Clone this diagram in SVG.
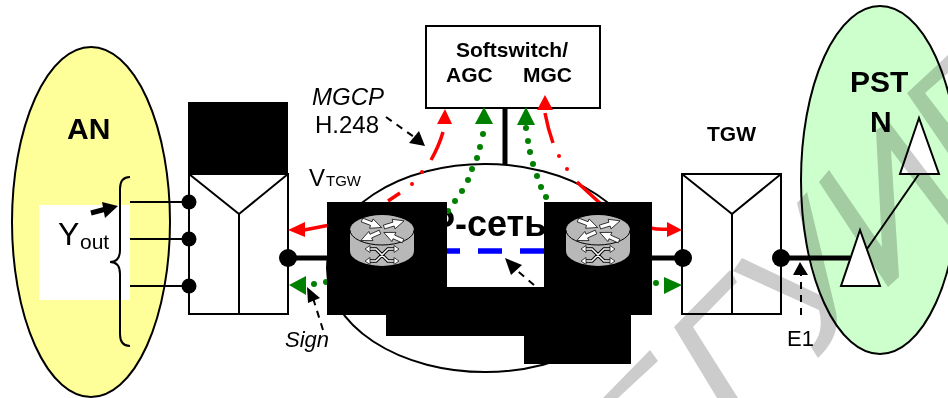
<svg xmlns="http://www.w3.org/2000/svg" xmlns:xlink="http://www.w3.org/1999/xlink" width="948" height="398" viewBox="0 0 948 398">
<style>
text{font-family:"Liberation Sans",Arial,sans-serif;fill:#000}
.b{font-weight:700}
.i{font-style:italic}
.shape{stroke:#000;stroke-width:2;fill:#fff}
.thin{stroke:#000;stroke-width:2;fill:none}
.thick{stroke:#000;stroke-width:5;fill:none}
.red{stroke:#f00;stroke-width:3.5;fill:none}
.rh{fill:#f00}
.gh{fill:#008000}
.gd{fill:#008000}
.dash{stroke:#000;stroke-width:2;fill:none;stroke-dasharray:7 6}
.wm{fill:#ccc;mix-blend-mode:multiply}
.tri{fill:#fff;stroke:#000;stroke-width:2;stroke-linejoin:miter}
.rb{fill:#b8b8b8}
.ra{fill:#fff;stroke:#000;stroke-width:.7}
.rx1{fill:none;stroke:#000;stroke-width:3.6}
.rx2{fill:none;stroke:#fff;stroke-width:1.5}
</style>
<defs>
<g id="gw">
<rect class="shape" x="0" y="0" width="99" height="140"/>
<path class="thin" d="M0,0 L50,40 L99,0 M50,40 V140"/>
</g>
<path id="ar" class="ra" d="M0,-2 L10,-2 L10,-5 L21,0 L10,5 L10,2 L0,2Z"/>
<g id="router">
<path class="rb" d="M-32,0 A32,15 0 0 1 32,0 V21 A32,15 0 0 1 -32,21Z"/>
<path d="M-32,0 A32,15 0 0 0 32,0" fill="none" stroke="#000" stroke-width="1"/>
<use xlink:href="#ar" href="#ar" transform="translate(-20,-10) rotate(21)"/>
<use xlink:href="#ar" href="#ar" transform="translate(2,-3) rotate(-17)"/>
<use xlink:href="#ar" href="#ar" transform="translate(-2,2) rotate(156)"/>
<use xlink:href="#ar" href="#ar" transform="translate(21,11) rotate(204)"/>
<path class="rx1" d="M-14,19 H-6 L6,31 H14 M-14,31 H-6 L6,19 H14"/>
<path class="rx2" d="M-14,19 H-6 L6,31 H14 M-14,31 H-6 L6,19 H14"/>
<path class="ra" d="M-17,19 L-12,15.5 V22.5Z M-17,31 L-12,27.5 V34.5Z M17,19 L12,15.5 V22.5Z M17,31 L12,27.5 V34.5Z"/>
</g>
</defs>

<g id="an">
<ellipse cx="91" cy="222" rx="79" ry="175" fill="#ffff99" stroke="#000" stroke-width="2"/>
<rect x="39" y="205" width="91" height="95" fill="#fff"/>
<text class="b" x="67" y="139" font-size="30">AN</text>
<text x="58" y="245" font-size="32">Y</text>
<text x="80" y="249" font-size="21">out</text>
</g>

<g id="pstn">
<ellipse cx="880" cy="180" rx="79" ry="174" fill="#ccffcc" stroke="#000" stroke-width="2"/>
<text class="b" x="850" y="92" font-size="30">PST</text>
<text class="b" x="870" y="132" font-size="30">N</text>
</g>

<g id="ip-network">
<ellipse cx="485" cy="268" rx="158" ry="104" fill="#fff" stroke="#000" stroke-width="2"/>
<text class="b" x="431" y="236" font-size="36">P-сеть</text>
</g>

<g id="softswitch">
<rect class="shape" x="426" y="26" width="174" height="82"/>
<text class="b" x="456" y="57" font-size="21">Softswitch/</text>
<text class="b" x="446" y="82" font-size="21">AGC</text>
<text class="b" x="523" y="82" font-size="21">MGC</text>
</g>

<g id="access-gateway">
<rect x="188" y="102" width="100" height="72" fill="#000"/>
<use xlink:href="#gw" href="#gw" x="189" y="174"/>
</g>

<g id="trunk-gateway">
<text class="b" x="707" y="141" font-size="21">TGW</text>
<use xlink:href="#gw" href="#gw" x="682" y="174"/>
</g>

<g id="connectors">
<path class="thin" d="M130,177 Q120,177 120,189 V250 Q120,262 110,262 Q120,262 120,274 V334 Q120,346 130,346"/>
<path class="thin" d="M130,202 H189 M130,239 H189 M130,286 H189"/>
<path class="thick" d="M91,213 L106,209"/>
<path d="M118,206 L102,202 L105,218Z" fill="#000"/>
<path class="thick" d="M505,108 V165"/>
<path class="thick" d="M288,258 H330 M650,258 H683 M781,258 H850"/>
<path class="thin" d="M867,249 L919,174"/>
<path d="M447,251 H460 M478,251 H502 M520,251 H545" stroke="#00f" stroke-width="5.5" fill="none"/>

<path class="red" d="M304,230 L330,225"/><path class="rh" d="M288,230 L305,222 L305,237Z"/>
<path class="red" d="M650,228 Q660,230 669,229"/><path class="rh" d="M682,230 L667,222 L667,237Z"/>
<path class="red" d="M443,132 Q439,146 431,160 M400,193 L388,201"/>
<circle class="rh" cx="422" cy="172" r="2"/><circle class="rh" cx="412" cy="184" r="2"/>
<path class="rh" d="M445,109 L437,124 L452,124Z"/>
<path class="red" d="M545,113 Q548,129 553,143 M577,182 L602,205"/>
<circle class="rh" cx="559" cy="156" r="2"/><circle class="rh" cx="567" cy="169" r="2"/>
<path class="rh" d="M545,95 L537,110 L553,110Z"/>

<path class="gh" d="M289,285 L306,276 L306,295Z"/>
<path class="gh" d="M682,285 L664,277 L664,294Z"/>
<path class="gh" d="M484,107 L475,124 L493,124Z"/>
<path class="gh" d="M526,107 L517,125 L535,125Z"/>
<g class="gd">
<circle cx="314" cy="284" r="3"/><circle cx="326" cy="282" r="3"/><circle cx="656" cy="283" r="3"/>
<circle cx="483" cy="134" r="3"/><circle cx="480" cy="147" r="3"/><circle cx="477" cy="158" r="3"/><circle cx="472" cy="169" r="3"/><circle cx="468" cy="180" r="3"/><circle cx="462" cy="191" r="3"/><circle cx="455" cy="201" r="3"/><circle cx="448" cy="211" r="3"/>
<circle cx="526" cy="128" r="3"/><circle cx="528" cy="141" r="3"/><circle cx="530" cy="152" r="3"/><circle cx="533" cy="164" r="3"/><circle cx="537" cy="176" r="3"/><circle cx="541" cy="187" r="3"/><circle cx="546" cy="197" r="3"/>
</g>

<path class="dash" d="M386,117 L414,137"/><path d="M425,146 L419,131 L409,143Z" fill="#000"/>
<path class="dash" d="M534,285 L514,268"/><path d="M505,258 L522,265 L511,275Z" fill="#000"/>
<path class="dash" d="M323,330 L313,298"/><path d="M307,287 L320,298 L308,303Z" fill="#000"/>
<path class="dash" d="M801,315 V274"/><path d="M800,262 L793,275 L808,275Z" fill="#000"/>

<circle cx="189" cy="202" r="7.5"/><circle cx="189" cy="239" r="7.5"/><circle cx="189" cy="286" r="7.5"/>
<circle cx="288" cy="258" r="9"/><circle cx="683" cy="258" r="9"/><circle cx="781" cy="258" r="9"/>
</g>

<g id="labels">
<text class="i" x="312" y="105" font-size="24">MGCP</text>
<text x="315" y="133" font-size="24">H.248</text>
<text x="309" y="186" font-size="24">V</text>
<text x="326" y="186" font-size="15">TGW</text>
<text class="i" x="285" y="347" font-size="22">Sign</text>
<text x="787" y="346" font-size="22">E1</text>
</g>

<g id="router-left">
<rect x="327" y="202" width="120" height="113" fill="#000"/>
<rect x="386" y="287" width="160" height="49" fill="#000"/>
<use xlink:href="#router" href="#router" x="382" y="230"/>
</g>
<g id="router-right">
<rect x="544" y="202" width="108" height="113" fill="#000"/>
<rect x="524" y="287" width="107" height="77" fill="#000"/>
<use xlink:href="#router" href="#router" x="598" y="230"/>
</g>

<polygon id="switch-b" class="tri" points="919,118 900,174 939,174"/>

<g id="watermark">
<polygon class="wm" points="650,350 658,361 618,398 603,398"/>
<polygon class="wm" points="730,270 737,282 693,327 738,398 717,398 674,327"/>
<path class="wm" d="M742,258 L820,295 L797,203 L807,192 L836,312 Q841,336 818,358 L811,347 Q825,333 819,310 L733,271Z"/>
<polygon class="wm" points="819,182 829,170 882,247 876,130 889,122 948,200 948,225 891,150 899,277 888,287"/>
<polygon class="wm" points="907,93 948,55 948,73 925,93 948,123 948,153"/>
</g>

<polygon id="switch-a" class="tri" points="860,230 841,286 880,286"/>
</svg>
